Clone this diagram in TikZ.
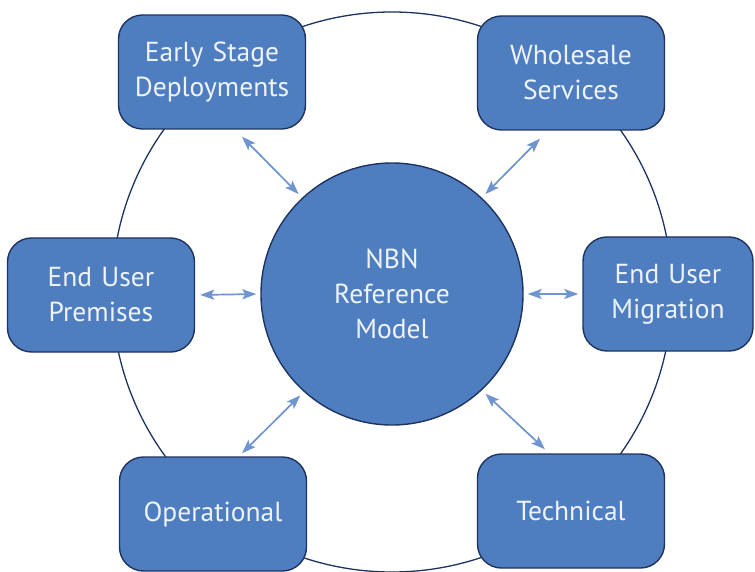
\documentclass[tikz,border=0pt]{standalone}
\usepackage{fontspec}
\setmainfont{PT Sans}
\usetikzlibrary{arrows.meta}
\definecolor{boxfill}{HTML}{4F7EC0}
\definecolor{navy}{HTML}{1E3460}
\definecolor{arrowblue}{HTML}{6E95CF}
\definecolor{txt}{HTML}{EEF3FB}
\tikzset{
  topic/.style={draw=navy, line width=1.4pt, fill=boxfill, rounded corners=24pt,
    minimum width=187pt, minimum height=114pt, text width=180pt, align=center,
    text=txt, font=\fontsize{27.5}{35}\selectfont, inner sep=0pt},
  hub/.style={circle, draw=navy, line width=1.4pt, fill=boxfill, minimum size=262pt,
    inner sep=0pt, align=center, text=txt, font=\fontsize{27.5}{35}\selectfont},
  link/.style={draw=arrowblue, line width=1.7pt,
    {Stealth[length=14pt,width=10pt,inset=3pt]}-{Stealth[length=14pt,width=10pt,inset=3pt]}},
  ring/.style={draw=navy, line width=1.3pt}
}
\begin{document}
\begin{tikzpicture}[x=1pt,y=-1pt]
\useasboundingbox (0,0) rectangle (755,572);
\fill[white] (0,0) rectangle (755,572);
\node[circle, ring, minimum size=560pt, inner sep=0pt] (outer) at (392,292) {};
\node[hub] (nbn) at (392,294) {NBN\\Reference\\Model};
\node[topic] (early) at (212,72) {Early Stage\\Deployments};
\node[topic] (whole) at (571,73) {Wholesale\\Services};
\node[topic] (prem) at (101,295) {End User\\Premises};
\node[topic, minimum width=170pt, text width=165pt] (migr) at (668,294) {End User\\Migration};
\node[topic] (oper) at (213,514) {Operational};
\node[topic] (tech) at (571,511) {Technical};
\draw[link, shorten >=5pt] ([xshift=30pt,yshift=-7pt]early.south) -- (nbn.133);
\draw[link, shorten >=5pt] ([xshift=-31pt,yshift=-8pt]whole.south) -- (nbn.47);
\draw[link, shorten <=5pt, shorten >=4pt] (prem.east) -- (nbn.west);
\draw[link, shorten <=4pt, shorten >=4pt] (nbn.east) -- (migr.west);
\draw[link, shorten >=5pt] ([xshift=29pt,yshift=3pt]oper.north) -- (nbn.228);
\draw[link, shorten >=5pt] ([xshift=-26pt,yshift=4pt]tech.north) -- (nbn.313);
\end{tikzpicture}
\end{document}
